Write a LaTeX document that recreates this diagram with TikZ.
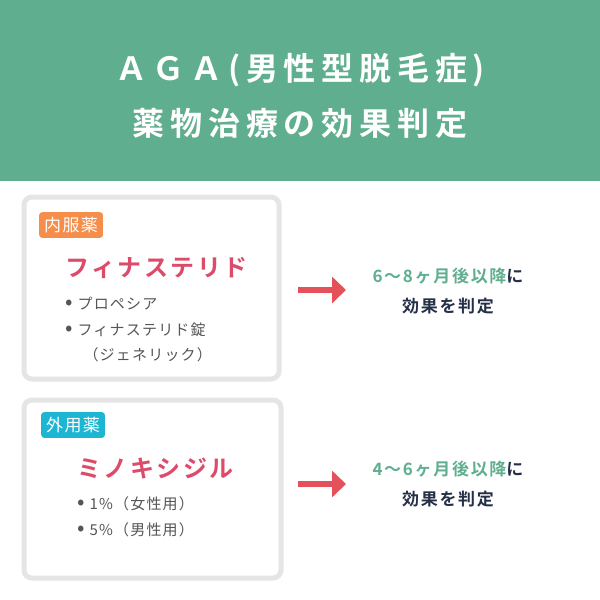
\documentclass[tikz,border=0pt]{standalone}
\usepackage{fontspec}
\newfontfamily\cjk[LetterSpace=8]{Noto Sans CJK JP}
\newfontfamily\cjkb[LetterSpace=10]{Noto Sans CJK JP Bold}
\newfontfamily\cjkt[LetterSpace=18]{Noto Sans CJK JP Bold}
\definecolor{hdr}{HTML}{5FAE8F}
\definecolor{pink}{HTML}{DD4B6A}
\definecolor{org}{HTML}{F58D4B}
\definecolor{cyanb}{HTML}{1DB6D2}
\definecolor{arr}{HTML}{E5515A}
\definecolor{navy}{HTML}{253048}
\definecolor{grn}{HTML}{5FAE8F}
\definecolor{txt}{HTML}{555555}
\newcommand{\bul}{{\fontsize{22}{16}\selectfont•}\ }
\tikzset{
 card/.style={draw=black!10,line width=5pt,fill=white,rounded corners=8pt},
 tag/.style={rounded corners=3pt,text=white,font=\cjk\fontsize{17}{17}\selectfont,inner sep=5pt},
 drug/.style={text=pink,font=\cjkb\fontsize{24}{24}\selectfont,anchor=west},
 item/.style={text=txt,font=\cjk\fontsize{15}{16}\selectfont,anchor=west,align=left},
 res/.style={font=\cjkb\fontsize{17}{30}\selectfont,align=center,text=navy},
 arrw/.style={arr,line width=6pt,-{Triangle[length=14pt,width=26pt]}}
}
\usetikzlibrary{arrows.meta}
\begin{document}
\begin{tikzpicture}[x=1pt,y=-1pt]
\useasboundingbox (0,0) rectangle (600,600);
\fill[hdr] (0,0) rectangle (600,181);
\node[text=white,font=\cjkt\fontsize{32}{55}\selectfont,align=center] (t) at (300,96) {ＡＧＡ(男性型脱毛症)\\薬物治療の効果判定};
% card 1
\draw[card] (24,197) rectangle (279,379);
\node[tag,fill=org,anchor=west] (tag1) at (39,225) {内服薬};
\node[drug] (d1) at (62,268) {フィナステリド};
\node[item] (i1) at (62,304) {\bul プロペシア};
\node[item] (i2) at (62,330) {\bul フィナステリド錠};
\node[item] (i3) at (80,355) {（ジェネリック）};
\draw[card] (24,400) rectangle (281,578);
\node[tag,fill=cyanb,anchor=west] (tag2) at (41,425) {外用薬};
\node[drug] (d2) at (74,468) {ミノキシジル};
\node[item] (j1) at (74,504) {\bul 1\%（女性用）};
\node[item] (j2) at (74,530) {\bul 5\%（男性用）};
% arrows and results
\coordinate (a1) at (298,290); \coordinate (b1) at (346,290);
\draw[arrw] (a1) -- (b1);
\node[res] (r1) at (448,291) {\textcolor{grn}{6〜8ヶ月後以降}に\\効果を判定};
\coordinate (a2) at (298,484); \coordinate (b2) at (346,484);
\draw[arrw] (a2) -- (b2);
\node[res] (r2) at (448,484) {\textcolor{grn}{4〜6ヶ月後以降}に\\効果を判定};
\end{tikzpicture}
\end{document}
